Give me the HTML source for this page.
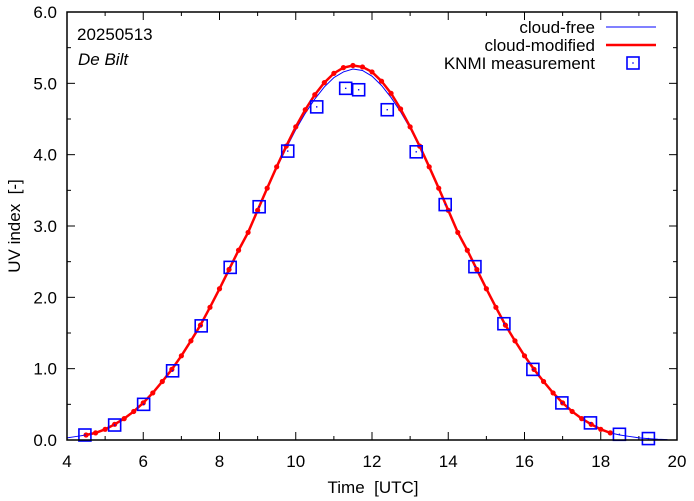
<!DOCTYPE html>
<html><head><meta charset="utf-8"><style>
body{margin:0;background:#fff}
svg{display:block;font-family:"Liberation Sans",sans-serif}
text{white-space:pre}
</style></head><body>
<svg id="c" width="694" height="501"></svg>
<script>
const redTimes=[4.5,4.75,5,5.25,5.5,5.75,6,6.25,6.5,6.75,7,7.25,7.5,7.75,8,8.25,8.5,8.75,9,9.25,9.5,9.75,10,10.25,10.5,10.75,11,11.25,11.5,11.75,12,12.25,12.5,12.75,13,13.25,13.5,13.75,14,14.25,14.5,14.75,15,15.25,15.5,15.75,16,16.25,16.5,16.75,17,17.25,17.5,17.75,18,18.25];
const redValues=[0.07,0.10,0.15,0.22,0.30,0.40,0.52,0.66,0.82,0.99,1.18,1.39,1.61,1.86,2.12,2.39,2.66,2.91,3.22,3.53,3.83,4.12,4.39,4.63,4.84,5.01,5.14,5.22,5.25,5.23,5.16,5.03,4.86,4.64,4.39,4.12,3.83,3.53,3.22,2.91,2.66,2.39,2.12,1.86,1.61,1.39,1.18,0.99,0.82,0.66,0.52,0.40,0.30,0.22,0.15,0.10];
const blueTimes=[4,4.25,4.5,4.75,5,5.25,5.5,5.75,6,6.25,6.5,6.75,7,7.25,7.5,7.75,8,8.25,8.5,8.75,9,9.25,9.5,9.75,10,10.25,10.5,10.75,11,11.25,11.5,11.75,12,12.25,12.5,12.75,13,13.25,13.5,13.75,14,14.25,14.5,14.75,15,15.25,15.5,15.75,16,16.25,16.5,16.75,17,17.25,17.5,17.75,18,18.25,18.5,18.75,19,19.25,19.5,19.75];
const blueValues=[0.03,0.05,0.07,0.10,0.15,0.22,0.30,0.40,0.52,0.66,0.82,0.99,1.18,1.39,1.61,1.86,2.12,2.39,2.66,2.91,3.22,3.52,3.81,4.09,4.35,4.58,4.78,4.95,5.08,5.16,5.20,5.18,5.10,4.97,4.80,4.60,4.37,4.10,3.81,3.52,3.22,2.91,2.66,2.39,2.12,1.86,1.61,1.39,1.18,0.99,0.82,0.66,0.52,0.40,0.30,0.22,0.15,0.10,0.07,0.05,0.03,0.02,0.01,0.005];
const measTimes=[4.47,5.25,6.01,6.77,7.52,8.28,9.04,9.79,10.55,11.31,11.65,12.4,13.16,13.92,14.7,15.46,16.22,16.98,17.73,18.49,19.25];
const measValues=[0.07,0.21,0.5,0.97,1.6,2.42,3.27,4.05,4.67,4.93,4.91,4.63,4.04,3.3,2.43,1.63,0.99,0.52,0.24,0.08,0.02];
const xTicks=[4,6,8,10,12,14,16,18,20];
const yTicks=[0,1,2,3,4,5,6];
const yLabels=["0.0","1.0","2.0","3.0","4.0","5.0","6.0"];

const L=67,R=677,T=12,B=440;
const X=t=>L+(t-4)/16*(R-L);
const Y=v=>B-v/6*(B-T);
const NS="http://www.w3.org/2000/svg";
const svg=document.getElementById('c');
function mk(tag,attrs,parent){const e=document.createElementNS(NS,tag);for(const k in attrs)e.setAttribute(k,attrs[k]);(parent||svg).appendChild(e);return e;}

const axes=mk('g',{});


for(let t=4;t<=20;t+=1){const len=(t%2===0)?8:4;const x=X(t);
 mk('line',{x1:x,y1:B,x2:x,y2:B-len,stroke:'#000','stroke-width':1},axes);
 mk('line',{x1:x,y1:T,x2:x,y2:T+len,stroke:'#000','stroke-width':1},axes);}
for(let v=0;v<=6;v+=0.5){const len=(v%1===0)?8:4;const y=Y(v);
 mk('line',{x1:L,y1:y,x2:L+len,y2:y,stroke:'#000','stroke-width':1},axes);
 mk('line',{x1:R,y1:y,x2:R-len,y2:y,stroke:'#000','stroke-width':1},axes);}
xTicks.forEach(t=>{const e=mk('text',{x:X(t),y:467,'text-anchor':'middle','font-size':17},axes);e.textContent=t;
 
 });
yTicks.forEach((v,i)=>{const e=mk('text',{x:57,y:Y(v)+6,'text-anchor':'end','font-size':17},axes);e.textContent=yLabels[i];
 
 });

const bl=mk('polyline',{points:blueTimes.map((t,i)=>X(t)+','+Y(blueValues[i])).join(' '),fill:'none',stroke:'#0000ff','stroke-width':1});


const rl=mk('polyline',{points:redTimes.map((t,i)=>X(t)+','+Y(redValues[i])).join(' '),fill:'none',stroke:'#ff0000','stroke-width':2.5});


redTimes.forEach((t,i)=>{const c=mk('circle',{cx:X(t),cy:Y(redValues[i]),r:2.6,fill:'#ff0000'});
 
 });
measTimes.forEach((t,i)=>{const g=mk('g',{});
 
 
 const x=X(t),y=Y(measValues[i]);
 mk('rect',{x:x-6,y:y-6,width:12,height:12,fill:'none',stroke:'#0000ff','stroke-width':1.6},g);
 mk('rect',{x:x-0.7,y:y-0.7,width:1.4,height:1.4,fill:'#0000ff'},g);});

const fr=mk('rect',{x:L,y:T,width:R-L,height:B-T,fill:'none',stroke:'#000','stroke-width':1.5});



let e=mk('text',{x:373,y:493,'text-anchor':'middle','font-size':17});e.textContent='Time  [UTC]';


e=mk('text',{x:0,y:0,'text-anchor':'middle','font-size':17,transform:'translate(20,226) rotate(-90)'});e.textContent='UV index  [-]';


e=mk('text',{x:77,y:40,'font-size':17});e.textContent='20250513';


e=mk('text',{x:78,y:65,'font-size':17,'font-style':'italic'});e.textContent='De Bilt';



const lg=mk('g',{});


e=mk('text',{x:595,y:33,'text-anchor':'end','font-size':17},lg);e.textContent='cloud-free';
e=mk('text',{x:595,y:51,'text-anchor':'end','font-size':17},lg);e.textContent='cloud-modified';
e=mk('text',{x:595,y:69,'text-anchor':'end','font-size':17},lg);e.textContent='KNMI measurement';
mk('line',{x1:606,y1:27,x2:656,y2:27,stroke:'#0000ff','stroke-width':1},lg);
mk('line',{x1:606,y1:45,x2:656,y2:45,stroke:'#ff0000','stroke-width':2.5},lg);
mk('rect',{x:627,y:57,width:12,height:12,fill:'none',stroke:'#0000ff','stroke-width':1.6},lg);
mk('rect',{x:632.3,y:62.3,width:1.4,height:1.4,fill:'#0000ff'},lg);
</script>
</body></html>
